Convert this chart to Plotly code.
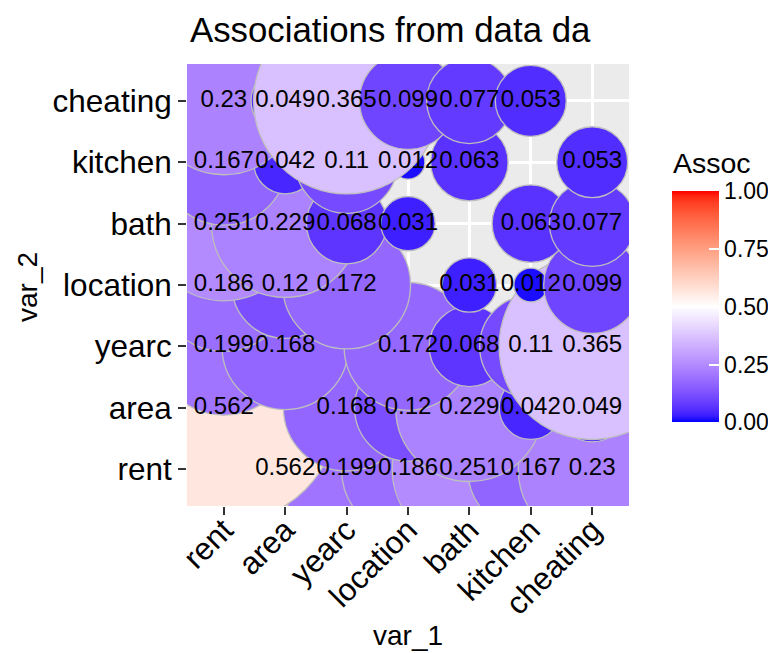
import math
import plotly.graph_objects as go

# ---------------- data ----------------
variables = ["rent", "area", "yearc", "location", "bath", "kitchen", "cheating"]

# upper-triangle associations (each row: vs. the variables that follow it)
assoc_rent = [0.562, 0.199, 0.186, 0.251, 0.167, 0.23]
assoc_area = [0.168, 0.12, 0.229, 0.042, 0.049]
assoc_yearc = [0.172, 0.068, 0.11, 0.365]
assoc_location = [0.031, 0.012, 0.099]
assoc_bath = [0.063, 0.077]
assoc_kitchen = [0.053]

colorbar_ticks = [0.0, 0.25, 0.5, 0.75, 1.0]

upper = [assoc_rent, assoc_area, assoc_yearc, assoc_location, assoc_bath, assoc_kitchen]
n = len(variables)
mat = [[None] * n for _ in range(n)]
for i, row in enumerate(upper):
    for k, v in enumerate(row):
        j = i + 1 + k
        mat[i][j] = v
        mat[j][i] = v

# long format: var_2 outer, var_1 inner (drawing order), diagonal omitted
xs, ys, vals = [], [], []
for j, v2 in enumerate(variables):
    for i, v1 in enumerate(variables):
        if mat[i][j] is None:
            continue
        xs.append(v1)
        ys.append(v2)
        vals.append(mat[i][j])
labels = [f"{v:g}" for v in vals]

# ---------------- styling helpers ----------------
def _lin(c):
    c = c / 255.0
    return c / 12.92 if c <= 0.04045 else ((c + 0.055) / 1.055) ** 2.4

def _gam(c):
    c = 12.92 * c if c <= 0.0031308 else 1.055 * c ** (1 / 2.4) - 0.055
    return max(0, min(255, round(c * 255)))

WN = (0.95047, 1.0, 1.08883)

def rgb2lab(rgb):
    r, g, b = [_lin(c) for c in rgb]
    X = 0.4124564 * r + 0.3575761 * g + 0.1804375 * b
    Y = 0.2126729 * r + 0.7151522 * g + 0.0721750 * b
    Z = 0.0193339 * r + 0.1191920 * g + 0.9503041 * b
    def f(t):
        return t ** (1 / 3) if t > 0.008856 else 7.787 * t + 16 / 116
    fx, fy, fz = f(X / WN[0]), f(Y / WN[1]), f(Z / WN[2])
    return (116 * fy - 16, 500 * (fx - fy), 200 * (fy - fz))

def lab2rgb(lab):
    L, a, b = lab
    fy = (L + 16) / 116
    fx = fy + a / 500
    fz = fy - b / 200
    def finv(t):
        return t ** 3 if t ** 3 > 0.008856 else (t - 16 / 116) / 7.787
    X, Y, Z = finv(fx) * WN[0], finv(fy) * WN[1], finv(fz) * WN[2]
    r = 3.2404542 * X - 1.5371385 * Y - 0.4985314 * Z
    g = -0.9692660 * X + 1.8760108 * Y + 0.0415560 * Z
    bb = 0.0556434 * X - 0.2040259 * Y + 1.0572252 * Z
    return (_gam(r), _gam(g), _gam(bb))

low, mid, high = rgb2lab((0, 0, 255)), rgb2lab((255, 255, 255)), rgb2lab((255, 0, 0))
colorscale = []
steps = 40
for s in range(steps + 1):
    t = s / steps
    if t <= 0.5:
        u = t / 0.5
        lab = tuple(low[k] + (mid[k] - low[k]) * u for k in range(3))
    else:
        u = (t - 0.5) / 0.5
        lab = tuple(mid[k] + (high[k] - mid[k]) * u for k in range(3))
    r, g, b = lab2rgb(lab)
    colorscale.append([t, f"rgb({r},{g},{b})"])

# layout geometry (pixels)
W, H = 776, 653
PL, PR, PT, PB = 179, 621, 56, 498
pw, ph = PR - PL, PB - PT
cell = pw / (n + 0.2)

def px_x(p):
    return (p - PL) / pw

def px_y(p):
    return (PB - p) / ph

sizes = [2 * 2.51 * cell * math.sqrt(v) for v in vals]

FONT = "Liberation Sans, Arial, Helvetica, sans-serif"

fig = go.Figure()
fig.add_trace(go.Scatter(
    x=xs, y=ys, mode="markers",
    marker=dict(
        size=sizes, sizemode="diameter",
        color=vals, colorscale=colorscale, cmin=0, cmax=1,
        line=dict(color="#BEBEBE", width=1.3),
        opacity=1,
        showscale=True,
        colorbar=dict(
            thickness=47, thicknessmode="pixels",
            len=231, lenmode="pixels",
            x=px_x(664), xanchor="left", xref="paper",
            y=px_y(298.8), yanchor="middle", yref="paper",
            xpad=0, ypad=0, outlinewidth=0,
            tickmode="array", tickvals=colorbar_ticks,
            ticktext=[f"{t:.2f}" for t in colorbar_ticks],
            ticks="inside", ticklen=10, tickcolor="white", tickwidth=1.5,
            tickfont=dict(family=FONT, size=23, color="black"),
        ),
    ),
    hoverinfo="skip", showlegend=False, cliponaxis=True,
))
fig.add_trace(go.Scatter(
    x=xs, y=ys, mode="text", text=labels,
    textposition="middle center",
    textfont=dict(family=FONT, size=24, color="black"),
    hoverinfo="skip", showlegend=False, cliponaxis=True,
))

axis_common = dict(
    type="category", categoryorder="array", categoryarray=variables,
    range=[-0.6, n - 0.4], autorange=False,
    showgrid=True, gridcolor="white", gridwidth=2.6,
    zeroline=False, showline=False,
    ticks="outside", ticklen=8, tickwidth=2.2, tickcolor="#333333",
    tickfont=dict(family=FONT, size=31.5, color="black"),
    fixedrange=True,
)

fig.update_layout(
    width=W, height=H,
    margin=dict(l=PL, r=W - PR, t=PT, b=H - PB, autoexpand=False),
    paper_bgcolor="white", plot_bgcolor="#EBEBEB",
    xaxis=dict(axis_common, tickangle=-45, ticklabelstandoff=-16),
    yaxis=dict(axis_common),
    font=dict(family=FONT, color="black"),
    annotations=[
        dict(text="Associations from data da", xref="paper", yref="paper",
             x=px_x(180), y=px_y(21), xanchor="left", yanchor="middle",
             showarrow=False, font=dict(size=34.8, color="black", family=FONT)),
        dict(text="var_1", xref="paper", yref="paper",
             x=px_x(400), y=px_y(627), xanchor="center", yanchor="middle",
             showarrow=False, font=dict(size=28, color="black", family=FONT)),
        dict(text="var_2", xref="paper", yref="paper", textangle=-90,
             x=px_x(19), y=px_y(279), xanchor="center", yanchor="middle",
             showarrow=False, font=dict(size=28, color="black", family=FONT)),
        dict(text="Assoc", xref="paper", yref="paper",
             x=px_x(663), y=px_y(155), xanchor="left", yanchor="middle",
             showarrow=False, font=dict(size=28.5, color="black", family=FONT)),
    ],
)

fig.write_html("out.html")
